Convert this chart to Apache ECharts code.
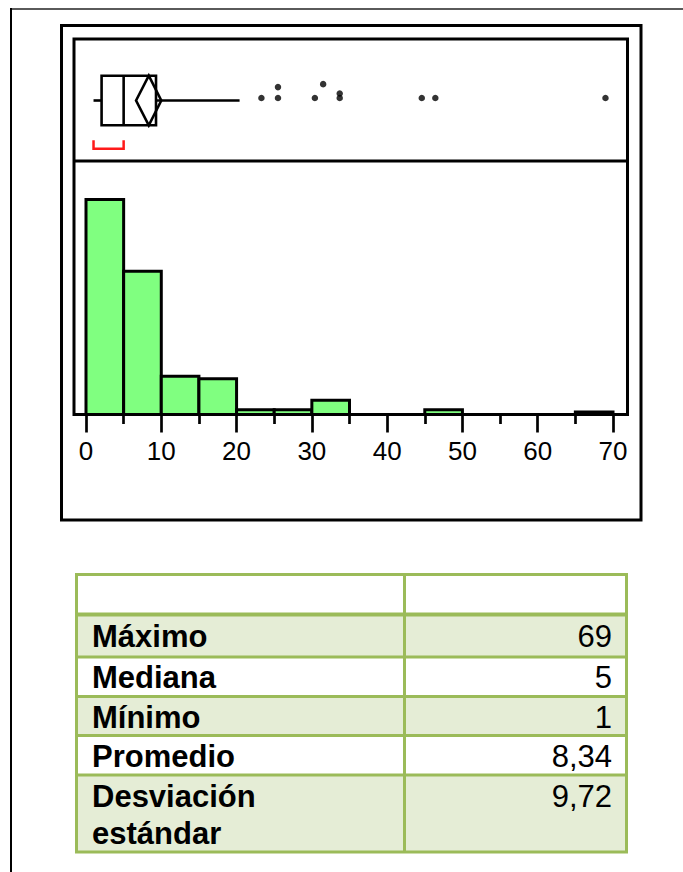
<!DOCTYPE html>
<html>
<head>
<meta charset="utf-8">
<script src="https://cdn.jsdelivr.net/npm/echarts@6/dist/echarts.min.js"></script>
<style>
  html, body { margin: 0; padding: 0; background: #fff; }
  #chart { width: 683px; height: 872px; }
</style>
</head>
<body>
<div id="chart"></div>
<script>
// Histogram: bin edges (width 5) and the count in each bin
const binEdges  = [0, 5, 10, 15, 20, 25, 30, 35, 40, 45, 50, 55, 60, 65, 70];
const binCounts = [90, 60, 16, 15, 2, 2, 6, 0, 0, 2, 0, 0, 0, 1];
const axisTicks = [0, 10, 20, 30, 40, 50, 60, 70];

// Summary statistics for the table
const statNames  = ['Máximo', 'Mediana', 'Mínimo', 'Promedio', 'Desviación\nestándar'];
const statValues = [69, 5, 1, 8.34, 9.72];

// Outlier box plot parts
const quartiles    = [2.07, 9.3];     // Q1, Q3
const upperWhisker = 20.4;
const meanCI       = [6.65, 10.0];    // mean diamond ends
const shortestHalf = [1, 5];
const outlierValues = [23.3, 25.5, 25.5, 30.4, 31.5, 33.7, 33.7, 44.6, 46.4, 69];
const outlierJitter = [0.1, 0.1, 0.54, 0.1, 0.66, 0.1, 0.28, 0.1, 0.1, 0.1];

const statMax = statValues[0], statMedian = statValues[1], statMin = statValues[2], statMean = statValues[3];

const FONT = '"Liberation Sans", Arial, Helvetica, sans-serif';
const TABLE_LINE = '#9bbb59';
const TABLE_BAND = '#e5edd6';

function fmt(v) { return String(v).replace('.', ','); }

const chart = echarts.init(document.getElementById('chart'), null, { renderer: 'svg', width: 683, height: 872 });

// ---- table built as graphic elements ----
const tbl = { left: 76.5, right: 626.5, mid: 404.5, top: 574.5, headBottom: 614.5 };
const rowBottoms = [657, 696.5, 735.5, 775, 852];
const LINE_H = 37;
const tableEls = [];
// header row
tableEls.push({ type: 'rect', z: 1, shape: { x: tbl.left, y: tbl.top, width: tbl.right - tbl.left, height: tbl.headBottom - tbl.top }, style: { fill: '#fff' } });
let prev = tbl.headBottom;
statNames.forEach(function (name, i) {
  const bottom = rowBottoms[i];
  tableEls.push({ type: 'rect', z: 1, shape: { x: tbl.left, y: prev, width: tbl.right - tbl.left, height: bottom - prev },
    style: { fill: i % 2 === 0 ? TABLE_BAND : '#fff' } });
  const lines = name.split('\n').length;
  const center = (prev + bottom) / 2 + 1;
  const firstLine = center - (lines - 1) * LINE_H / 2;
  tableEls.push({ type: 'text', z: 5, style: { text: name, x: 92, y: center, fill: '#000',
    font: 'bold 31px ' + FONT, fontSize: 31, fontWeight: 'bold', fontFamily: FONT, lineHeight: LINE_H,
    align: 'left', textAlign: 'left', verticalAlign: 'middle', textVerticalAlign: 'middle' } });
  tableEls.push({ type: 'text', z: 5, style: { text: fmt(statValues[i]), x: 612, y: firstLine, fill: '#000',
    font: '31px ' + FONT, fontSize: 31, fontFamily: FONT, lineHeight: LINE_H,
    align: 'right', textAlign: 'right', verticalAlign: 'middle', textVerticalAlign: 'middle' } });
  prev = bottom;
});
const hLines = [tbl.top].concat(rowBottoms);
hLines.forEach(function (y) {
  tableEls.push({ type: 'line', z: 3, shape: { x1: tbl.left - 1.5, y1: y, x2: tbl.right + 1.5, y2: y }, style: { stroke: TABLE_LINE, lineWidth: 3 } });
});
// heavier rule under the header row
tableEls.push({ type: 'line', z: 3, shape: { x1: tbl.left - 1.5, y1: tbl.headBottom, x2: tbl.right + 1.5, y2: tbl.headBottom }, style: { stroke: TABLE_LINE, lineWidth: 4 } });
[tbl.left, tbl.mid, tbl.right].forEach(function (x) {
  tableEls.push({ type: 'line', z: 3, shape: { x1: x, y1: tbl.top, x2: x, y2: rowBottoms[rowBottoms.length - 1] }, style: { stroke: TABLE_LINE, lineWidth: 3 } });
});

// ---- page and chart frames ----
const frameEls = [
  { type: 'line', z: 1, shape: { x1: 10, y1: 9, x2: 683, y2: 9 }, style: { stroke: '#5a5a5a', lineWidth: 2 } },
  { type: 'line', z: 1, shape: { x1: 11, y1: 8, x2: 11, y2: 872 }, style: { stroke: '#000', lineWidth: 2 } },
  { type: 'rect', z: 1, shape: { x: 61.5, y: 25.5, width: 579.5, height: 494.5 }, style: { fill: 'none', stroke: '#000', lineWidth: 3 } },
  { type: 'rect', z: 1, shape: { x: 74, y: 39, width: 553.5, height: 375.5 }, style: { fill: 'none', stroke: '#000', lineWidth: 3 } },
  { type: 'line', z: 1, shape: { x1: 74, y1: 161, x2: 627.5, y2: 161 }, style: { stroke: '#000', lineWidth: 3 } }
];

const histData = binCounts.map(function (c, i) { return [binEdges[i], binEdges[i + 1], c]; });
const outlierData = outlierValues.map(function (v, i) { return [v, outlierJitter[i]]; });

const xMin = axisTicks[0], xMax = axisTicks[axisTicks.length - 1], xStep = axisTicks[1] - axisTicks[0];

chart.setOption({
  backgroundColor: '#fff',
  animation: false,
  grid: [
    { left: 86, width: 527, top: 75.7, height: 49.6 },
    { left: 86, width: 527, top: 199.5, height: 215 }
  ],
  xAxis: [
    { gridIndex: 0, type: 'value', min: xMin, max: xMax, show: false },
    { gridIndex: 1, type: 'value', min: xMin, max: xMax, interval: xStep,
      axisLine: { show: false },
      axisTick: { show: true, length: 18, lineStyle: { color: '#000', width: 2.7 } },
      minorTick: { show: true, splitNumber: 2, length: 9.5, lineStyle: { color: '#000', width: 2.7 } },
      splitLine: { show: false },
      minorSplitLine: { show: false },
      axisLabel: { margin: 23, color: '#000', fontSize: 26, fontFamily: FONT } }
  ],
  yAxis: [
    { gridIndex: 0, type: 'value', min: -1, max: 1, show: false },
    { gridIndex: 1, type: 'value', min: 0, max: 90, show: false }
  ],
  graphic: { elements: frameEls.concat(tableEls) },
  series: [
    {
      type: 'custom',
      xAxisIndex: 1, yAxisIndex: 1,
      data: histData,
      encode: { x: [0, 1], y: 2 },
      z: 3,
      renderItem: function (params, api) {
        const count = api.value(2);
        if (!count) return { type: 'group', children: [] };
        const p0 = api.coord([api.value(0), 0]);
        const p1 = api.coord([api.value(1), count]);
        return {
          type: 'rect',
          shape: { x: p0[0], y: p1[1], width: p1[0] - p0[0], height: p0[1] - p1[1] },
          style: { fill: '#80ff80', stroke: '#000', lineWidth: 3 }
        };
      }
    },
    {
      type: 'custom',
      xAxisIndex: 0, yAxisIndex: 0,
      data: [[statMedian, 0]],
      z: 3,
      renderItem: function (params, api) {
        const c = function (x, y) { return api.coord([x, y]); };
        const stroke = { stroke: '#000', lineWidth: 2.6, fill: 'none' };
        const top = c(quartiles[0], 1), bot = c(quartiles[1], -1);
        const ctr = c(statMin, 0)[1];
        const sh0 = c(shortestHalf[0], -1), sh1 = c(shortestHalf[1], -1);
        return {
          type: 'group',
          children: [
            { type: 'rect', shape: { x: top[0], y: top[1], width: bot[0] - top[0], height: bot[1] - top[1] }, style: stroke },
            { type: 'line', shape: { x1: c(statMedian, 0)[0], y1: top[1], x2: c(statMedian, 0)[0], y2: bot[1] }, style: stroke },
            { type: 'line', shape: { x1: c(statMin, 0)[0], y1: ctr, x2: top[0], y2: ctr }, style: stroke },
            { type: 'line', shape: { x1: bot[0], y1: ctr, x2: c(upperWhisker, 0)[0], y2: ctr }, style: stroke },
            { type: 'polygon', shape: { points: [c(meanCI[0], 0), c(statMean, 1), c(meanCI[1], 0), c(statMean, -1)] }, style: stroke },
            { type: 'polyline', shape: { points: [[sh0[0], sh0[1] + 15], [sh0[0], sh0[1] + 23.5], [sh1[0], sh1[1] + 23.5], [sh1[0], sh1[1] + 15]] },
              style: { stroke: '#ff1a1a', lineWidth: 2.5, fill: 'none' } }
          ]
        };
      }
    },
    {
      type: 'scatter',
      xAxisIndex: 0, yAxisIndex: 0,
      data: outlierData,
      symbol: 'circle',
      symbolSize: 6.5,
      itemStyle: { color: '#000' },
      z: 4
    }
  ]
});
</script>
</body>
</html>
